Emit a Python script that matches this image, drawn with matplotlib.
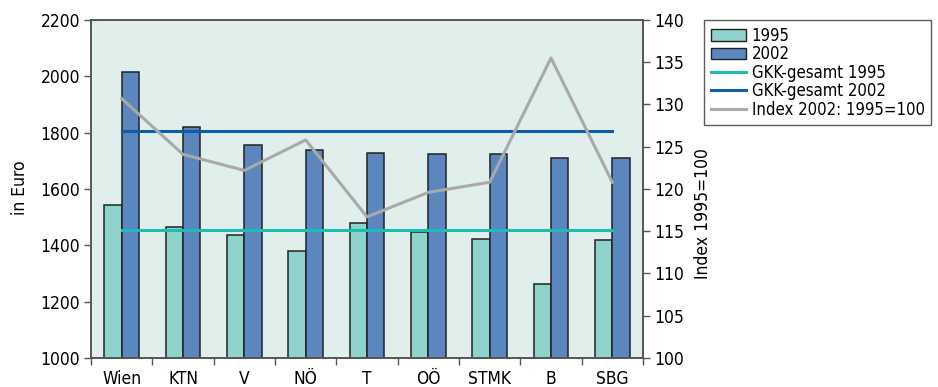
import matplotlib
matplotlib.use("Agg")
import matplotlib.pyplot as plt
import numpy as np
from matplotlib.lines import Line2D
from matplotlib.patches import Patch

plt.rcParams['font.family'] = ['DejaVu Sans']
plt.rcParams['font.stretch'] = 'condensed'

regions = ["Wien", "KTN", "V", "NÖ", "T", "OÖ", "STMK", "B", "SBG"]
values_1995 = [1543, 1466, 1435, 1381, 1480, 1446, 1424, 1263, 1420]
values_2002 = [2016, 1821, 1756, 1740, 1727, 1723, 1723, 1709, 1709]
gkk_total_1995 = 1454
gkk_total_2002 = 1805
index_2002 = [130.7, 124.1, 122.2, 125.8, 116.7, 119.6, 120.8, 135.5, 120.8]

c_1995 = "#8dd3cb"
c_2002 = "#5b86be"
c_gkk95 = "#1dbdb1"
c_gkk02 = "#0f5ea5"
c_index = "#a9a9a9"
c_bg = "#e0efec"
c_axis = "#555555"

W, H = 938, 387
fig = plt.figure(figsize=(W / 100, H / 100), dpi=100)
ax = fig.add_axes([91 / W, 1 - 358 / H, (643 - 91) / W, (358 - 20) / H])
ax.set_facecolor(c_bg)

x = np.arange(len(regions))
bw = 0.285
ax.bar(x - bw / 2, values_1995, width=bw, color=c_1995, edgecolor="#222222",
       linewidth=1.1, zorder=2)
ax.bar(x + bw / 2, values_2002, width=bw, color=c_2002, edgecolor="#222222",
       linewidth=1.1, zorder=2)
ax.plot([x[0], x[-1]], [gkk_total_1995] * 2, color=c_gkk95, lw=2.2, zorder=3)
ax.plot([x[0], x[-1]], [gkk_total_2002] * 2, color=c_gkk02, lw=2.2, zorder=3)

ax.set_xlim(-0.5, len(regions) - 0.5)
ax.set_ylim(1000, 2200)
ax.set_yticks(np.arange(1000, 2201, 200))
ax.set_xticks(x)
ax.set_xticklabels(regions)
ax.set_xticks(np.arange(-0.5, len(regions)), minor=True)
ax.tick_params(axis='x', which='major', length=0, pad=9, labelsize=12.5)
ax.tick_params(axis='x', which='minor', length=5, width=1, color=c_axis,
               direction='out')
ax.tick_params(axis='y', length=5, width=1, color=c_axis, labelsize=12.5, pad=3)
for s in ax.spines.values():
    s.set_color(c_axis)
    s.set_linewidth(1.2)
fig.text(20 / W, 1 - 188 / H, "in Euro", rotation=90,
         ha='center', va='center', fontsize=12.5)

ax2 = ax.twinx()
ax2.plot(x, index_2002, color=c_index, lw=2.2, zorder=4)
ax2.set_ylim(100, 140)
ax2.set_yticks(np.arange(100, 141, 5))
ax2.tick_params(axis='y', length=5, width=1, color=c_axis, labelsize=12.5, pad=3)
for s in ax2.spines.values():
    s.set_color(c_axis)
    s.set_linewidth(1.2)
fig.text(703 / W, 1 - 214 / H, "Index 1995=100", rotation=90,
         ha='center', va='center', fontsize=12.5)

handles = [
    Patch(facecolor=c_1995, edgecolor="#222222", linewidth=1.0, label="1995"),
    Patch(facecolor=c_2002, edgecolor="#222222", linewidth=1.0, label="2002"),
    Line2D([], [], color=c_gkk95, lw=2.2, label="GKK-gesamt 1995"),
    Line2D([], [], color=c_gkk02, lw=2.2, label="GKK-gesamt 2002"),
    Line2D([], [], color=c_index, lw=2.2, label="Index 2002: 1995=100"),
]
leg = fig.legend(handles=handles, loc='upper left',
                 bbox_to_anchor=(704 / W, 1 - 20 / H), fontsize=12,
                 frameon=True, fancybox=False, borderpad=0.4,
                 labelspacing=0.03, handlelength=2.1, handleheight=0.7,
                 handletextpad=0.35, borderaxespad=0)
leg.get_frame().set_edgecolor("#333333")
leg.get_frame().set_linewidth(1.0)

fig.savefig("out.png", dpi=100)
